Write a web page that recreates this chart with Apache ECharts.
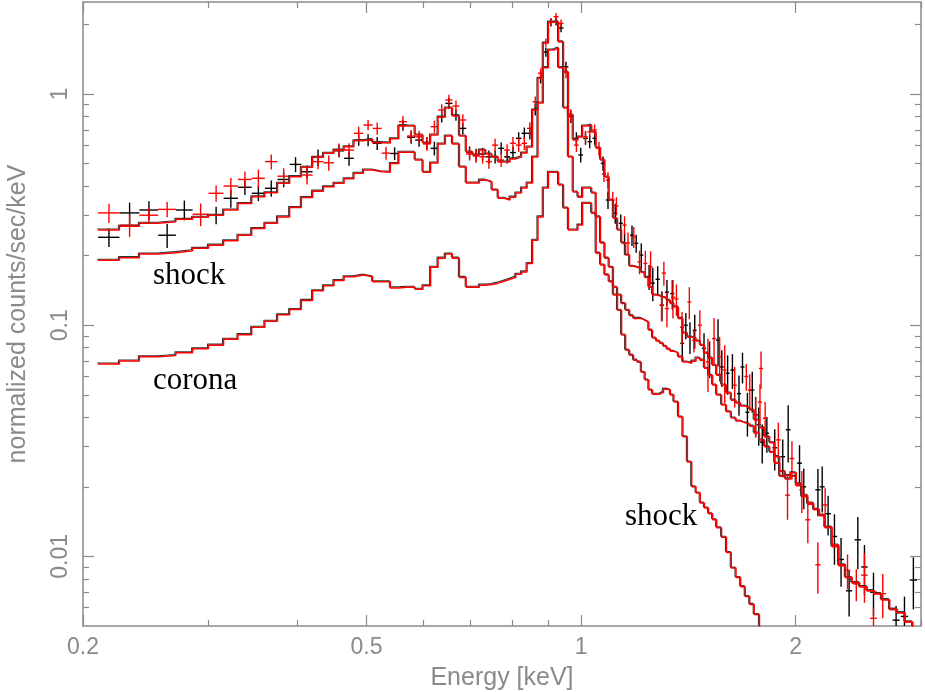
<!DOCTYPE html>
<html>
<head>
<meta charset="utf-8">
<title>spectrum</title>
<script src="https://cdn.jsdelivr.net/npm/echarts@6/dist/echarts.min.js"></script>
<style>
html, body { margin: 0; padding: 0; background: #fff; }
#main { width: 925px; height: 692px; }
</style>
</head>
<body>
<div id="main"></div>
<script>
// lower bin edges of the model steps (keV), last entry closes the last bin
const binEdges = [
    0.210, 0.225, 0.240, 0.255, 0.270, 0.285, 0.300, 0.315, 0.330, 0.345,
    0.360, 0.375, 0.390, 0.405, 0.420, 0.435, 0.450, 0.465, 0.480, 0.495,
    0.510, 0.525, 0.540, 0.555, 0.570, 0.585, 0.600, 0.615, 0.630, 0.645,
    0.660, 0.675, 0.690, 0.705, 0.720, 0.735, 0.750, 0.765, 0.780, 0.795,
    0.810, 0.825, 0.840, 0.855, 0.870, 0.885, 0.900, 0.915, 0.930, 0.945,
    0.960, 0.975, 0.990, 1.005, 1.020, 1.035, 1.050, 1.065, 1.080, 1.095,
    1.110, 1.125, 1.140, 1.155, 1.170,
    1.185, 1.200, 1.215, 1.230, 1.245, 1.260, 1.275, 1.290, 1.305, 1.320, 1.335, 1.350,
    1.370, 1.390, 1.410, 1.430, 1.450, 1.470, 1.490, 1.510, 1.530, 1.550,
    1.575, 1.600, 1.625, 1.650, 1.675, 1.700, 1.725, 1.750,
    1.780, 1.810, 1.840, 1.870, 1.900,
    1.935, 1.970, 2.005, 2.040,
    2.080, 2.120, 2.160, 2.200,
    2.250, 2.300, 2.350, 2.400,
    2.460, 2.520, 2.580, 2.640,
    2.710, 2.780, 2.850, 2.920, 3.000
];

// total model, counts/sec/keV per bin
const totalModel = [
    0.258, 0.268, 0.276, 0.280, 0.287, 0.293, 0.299, 0.315, 0.336, 0.359,
    0.374, 0.411, 0.439, 0.482, 0.532, 0.554, 0.572, 0.591, 0.628, 0.637, 0.616,
    0.614, 0.640, 0.727, 0.727, 0.665, 0.614, 0.665, 0.795, 0.870, 0.803,
    0.658, 0.561, 0.545, 0.572, 0.550, 0.534, 0.508, 0.508, 0.524, 0.534,
    0.555, 0.590, 0.853, 1.17, 1.66, 2.05, 2.05, 1.68, 1.245, 0.811,
    0.632, 0.651, 0.727, 0.734, 0.685, 0.584, 0.518, 0.437, 0.348, 0.290,
    0.258, 0.227, 0.201,
    0.180, 0.178, 0.176, 0.169, 0.161, 0.146, 0.135, 0.134, 0.132, 0.131,
    0.128, 0.124, 0.120, 0.107, 0.0925, 0.0889, 0.0880, 0.0854, 0.0819, 0.0757,
    0.0721, 0.0671, 0.0607, 0.0551, 0.0509, 0.0474, 0.0461, 0.0447, 0.0439, 0.0430,
    0.0389, 0.0360, 0.0329, 0.0310, 0.0270, 0.0233, 0.0224, 0.0230, 0.0206, 0.0184,
    0.0170, 0.0160, 0.0151, 0.0134, 0.0112, 0.0092, 0.0081, 0.0077, 0.0074, 0.0071,
    0.0069, 0.0065, 0.0059, 0.0057, 0.0052, 0.0048
];

// shock component (falls off the bottom near 1.8 keV)
const shockModel = [
    0.191, 0.196, 0.203, 0.206, 0.210, 0.215, 0.222, 0.232, 0.245, 0.262,
    0.276, 0.294, 0.323, 0.357, 0.380, 0.397, 0.411, 0.430, 0.454, 0.469, 0.461,
    0.459, 0.500, 0.560, 0.560, 0.518, 0.459, 0.503, 0.608, 0.658, 0.608,
    0.483, 0.412, 0.412, 0.424, 0.416, 0.384, 0.354, 0.348, 0.358, 0.373,
    0.392, 0.412, 0.534, 0.914, 1.30, 1.55, 1.58, 1.30, 0.870, 0.534,
    0.377, 0.358, 0.392, 0.392, 0.373, 0.294, 0.227, 0.195, 0.178, 0.135,
    0.116, 0.0907, 0.0780,
    0.0742, 0.0706, 0.0692, 0.0626, 0.0579, 0.0524, 0.0503, 0.0503, 0.0513, 0.0529,
    0.0524, 0.0499, 0.0465, 0.0401, 0.0329, 0.0256, 0.0200, 0.0188, 0.0170, 0.0162,
    0.0153, 0.0144, 0.0133, 0.0121, 0.0104, 0.0089, 0.0081, 0.0074, 0.0067, 0.0062,
    0.0056, 0.0049
];

// corona component
const coronaModel = [
    0.068, 0.070, 0.073, 0.074, 0.076, 0.079, 0.082, 0.087, 0.091, 0.098,
    0.104, 0.111, 0.117, 0.128, 0.141, 0.148, 0.156, 0.162, 0.165, 0.162, 0.154,
    0.154, 0.145, 0.146, 0.146, 0.143, 0.148, 0.178, 0.195, 0.203, 0.195,
    0.161, 0.146, 0.146, 0.149, 0.150, 0.152, 0.155, 0.158, 0.161, 0.166,
    0.170, 0.185, 0.233, 0.294, 0.392, 0.459, 0.459, 0.404, 0.321, 0.258,
    0.258, 0.271, 0.337, 0.337, 0.305, 0.205, 0.182, 0.165, 0.154, 0.146,
    0.135, 0.124, 0.116,
    0.110, 0.107, 0.107, 0.105, 0.103, 0.0952, 0.0880, 0.0854, 0.0836, 0.0811,
    0.0788, 0.0772, 0.0757, 0.0728, 0.0693, 0.0685, 0.0699, 0.0721, 0.0706, 0.0651,
    0.0607, 0.0551, 0.0499, 0.0452, 0.0422, 0.0397, 0.0385, 0.0378, 0.0374, 0.0366,
    0.0342, 0.0319, 0.0298, 0.0282, 0.0253, 0.0222, 0.0216, 0.0222, 0.0202, 0.0181,
    0.0168, 0.0159, 0.0150, 0.0133, 0.0110, 0.0091, 0.0081, 0.0077, 0.0074, 0.0071,
    0.0069, 0.0065, 0.0059, 0.0057, 0.0052, 0.0048
];

// data points: [energy, half bin width, value, 1-sigma error]
const blackData = [
    [0.2175, 0.0075, 0.240, 0.022], [0.2325, 0.0075, 0.306, 0.033], [0.2475, 0.0075, 0.315, 0.029],
    [0.2625, 0.0075, 0.245, 0.029], [0.2775, 0.0075, 0.315, 0.031], [0.3075, 0.0075, 0.299, 0.026],
    [0.3225, 0.0075, 0.354, 0.032], [0.3375, 0.0075, 0.395, 0.029], [0.3525, 0.0075, 0.372, 0.028],
    [0.3675, 0.0075, 0.391, 0.032], [0.3825, 0.0075, 0.427, 0.032], [0.3975, 0.0075, 0.496, 0.037],
    [0.4125, 0.0075, 0.461, 0.030], [0.4275, 0.0075, 0.532, 0.044], [0.4575, 0.0075, 0.568, 0.035],
    [0.4725, 0.0075, 0.527, 0.037], [0.4875, 0.0075, 0.632, 0.035], [0.5025, 0.0075, 0.632, 0.037],
    [0.5175, 0.0075, 0.612, 0.040], [0.5475, 0.0075, 0.553, 0.035], [0.5625, 0.0075, 0.734, 0.040],
    [0.5775, 0.0075, 0.650, 0.040], [0.5925, 0.0075, 0.632, 0.040], [0.6075, 0.0075, 0.612, 0.040],
    [0.6225, 0.0075, 0.582, 0.040], [0.6375, 0.0075, 0.797, 0.045], [0.6525, 0.0075, 0.911, 0.050],
    [0.6675, 0.0075, 0.811, 0.045], [0.6825, 0.0075, 0.710, 0.040], [0.6975, 0.0075, 0.558, 0.035],
    [0.7125, 0.0075, 0.545, 0.035], [0.7275, 0.0075, 0.550, 0.035], [0.7425, 0.0075, 0.535, 0.035],
    [0.7575, 0.0075, 0.535, 0.035], [0.7725, 0.0075, 0.582, 0.035], [0.7875, 0.0075, 0.535, 0.035],
    [0.8025, 0.0075, 0.558, 0.035], [0.8175, 0.0075, 0.643, 0.040], [0.8325, 0.0075, 0.676, 0.040],
    [0.8475, 0.0075, 0.676, 0.040], [0.8625, 0.0075, 0.858, 0.050], [0.8775, 0.0075, 1.17, 0.06],
    [0.8925, 0.0075, 1.52, 0.07], [0.9075, 0.0075, 2.04, 0.08], [0.9225, 0.0075, 2.06, 0.08],
    [0.9375, 0.0075, 1.93, 0.08], [0.9525, 0.0075, 1.31, 0.07], [0.9675, 0.0075, 0.80, 0.05],
    [0.985, 0.0075, 0.643, 0.040], [0.999, 0.0075, 0.545, 0.040], [1.0145, 0.0075, 0.643, 0.040],
    [1.0286, 0.0075, 0.622, 0.040], [1.045, 0.0075, 0.643, 0.040], [1.0734, 0.0075, 0.501, 0.035],
    [1.091, 0.0075, 0.348, 0.030], [1.117, 0.0075, 0.305, 0.030], [1.137, 0.0075, 0.276, 0.025],
    [1.151, 0.0075, 0.226, 0.025], [1.179, 0.0075, 0.245, 0.025], [1.195, 0.008, 0.226, 0.020],
    [1.215, 0.008, 0.201, 0.025], [1.246, 0.008, 0.162, 0.020], [1.261, 0.008, 0.152, 0.025],
    [1.281, 0.009, 0.158, 0.022], [1.299, 0.009, 0.122, 0.018], [1.320, 0.009, 0.139, 0.018],
    [1.343, 0.009, 0.137, 0.020], [1.387, 0.009, 0.0835, 0.014], [1.403, 0.009, 0.100, 0.013],
    [1.422, 0.009, 0.089, 0.014], [1.444, 0.009, 0.095, 0.016], [1.488, 0.010, 0.0794, 0.013],
    [1.515, 0.010, 0.072, 0.013], [1.557, 0.010, 0.0862, 0.020], [1.576, 0.010, 0.066, 0.012],
    [1.606, 0.010, 0.062, 0.012], [1.631, 0.011, 0.064, 0.011], [1.666, 0.011, 0.0506, 0.010],
    [1.685, 0.011, 0.066, 0.010], [1.712, 0.011, 0.042, 0.009],
    [1.739, 0.012, 0.0524, 0.0105], [1.758, 0.012, 0.041, 0.008], [1.776, 0.012, 0.0371, 0.007],
    [1.796, 0.013, 0.0312, 0.006], [1.823, 0.013, 0.0341, 0.006], [1.870, 0.014, 0.0295, 0.006],
    [1.919, 0.015, 0.027, 0.005], [1.953, 0.015, 0.0353, 0.0098], [2.026, 0.016, 0.0253, 0.005],
    [2.054, 0.016, 0.020, 0.004], [2.150, 0.018, 0.0194, 0.0045], [2.180, 0.018, 0.020, 0.0045],
    [2.222, 0.020, 0.0153, 0.003], [2.268, 0.020, 0.0122, 0.003], [2.317, 0.022, 0.0097, 0.0023],
    [2.378, 0.024, 0.0071, 0.0016], [2.446, 0.025, 0.0118, 0.003], [2.499, 0.026, 0.0090, 0.0022],
    [2.573, 0.028, 0.0070, 0.0015], [2.768, 0.032, 0.0053, 0.0008], [2.844, 0.034, 0.0055, 0.0012],
    [2.927, 0.034, 0.0079, 0.002]
];

const redData = [
    [0.2175, 0.0075, 0.306, 0.029], [0.2325, 0.0075, 0.271, 0.030], [0.2475, 0.0075, 0.299, 0.025],
    [0.2625, 0.0075, 0.317, 0.024], [0.2925, 0.0075, 0.302, 0.034], [0.3075, 0.0075, 0.372, 0.030],
    [0.3225, 0.0075, 0.400, 0.033], [0.3375, 0.0075, 0.427, 0.035], [0.3525, 0.0075, 0.432, 0.039],
    [0.3675, 0.0075, 0.510, 0.038], [0.3825, 0.0075, 0.441, 0.037], [0.4125, 0.0075, 0.446, 0.040],
    [0.4275, 0.0075, 0.510, 0.037], [0.4425, 0.0075, 0.504, 0.038], [0.4575, 0.0075, 0.572, 0.039],
    [0.4725, 0.0075, 0.572, 0.040], [0.4875, 0.0075, 0.676, 0.045], [0.5025, 0.0075, 0.734, 0.037],
    [0.5175, 0.0075, 0.710, 0.043], [0.5325, 0.0075, 0.555, 0.035], [0.5625, 0.0075, 0.759, 0.045],
    [0.5775, 0.0075, 0.658, 0.040], [0.5925, 0.0075, 0.653, 0.040], [0.6075, 0.0075, 0.608, 0.040],
    [0.6225, 0.0075, 0.722, 0.045], [0.6375, 0.0075, 0.853, 0.050], [0.6525, 0.0075, 0.942, 0.050],
    [0.6675, 0.0075, 0.887, 0.050], [0.6825, 0.0075, 0.772, 0.045], [0.6975, 0.0075, 0.550, 0.035],
    [0.7125, 0.0075, 0.539, 0.035], [0.7275, 0.0075, 0.535, 0.035], [0.7425, 0.0075, 0.510, 0.035],
    [0.7575, 0.0075, 0.601, 0.040], [0.7725, 0.0075, 0.518, 0.035], [0.7875, 0.0075, 0.572, 0.035],
    [0.8025, 0.0075, 0.612, 0.040], [0.8175, 0.0075, 0.601, 0.040], [0.8325, 0.0075, 0.612, 0.040],
    [0.8475, 0.0075, 0.710, 0.045], [0.8625, 0.0075, 0.926, 0.050], [0.8775, 0.0075, 1.23, 0.06],
    [0.8925, 0.0075, 1.67, 0.07], [0.9075, 0.0075, 2.05, 0.08], [0.9225, 0.0075, 2.16, 0.08],
    [0.9375, 0.0075, 2.02, 0.08], [0.9525, 0.0075, 1.24, 0.07], [0.9675, 0.0075, 0.81, 0.05],
    [0.985, 0.0075, 0.601, 0.040], [1.0145, 0.0075, 0.653, 0.040], [1.0286, 0.0075, 0.687, 0.040],
    [1.045, 0.0075, 0.699, 0.040], [1.0596, 0.0075, 0.582, 0.040], [1.077, 0.0075, 0.451, 0.035],
    [1.091, 0.0075, 0.424, 0.035], [1.108, 0.0075, 0.348, 0.030], [1.121, 0.0075, 0.328, 0.030],
    [1.151, 0.0075, 0.271, 0.025], [1.164, 0.0075, 0.227, 0.025], [1.186, 0.0075, 0.241, 0.025],
    [1.208, 0.008, 0.188, 0.022], [1.231, 0.008, 0.185, 0.025], [1.252, 0.008, 0.179, 0.030],
    [1.297, 0.009, 0.122, 0.018], [1.307, 0.009, 0.168, 0.020], [1.320, 0.009, 0.118, 0.020],
    [1.346, 0.009, 0.132, 0.025], [1.361, 0.009, 0.130, 0.020], [1.386, 0.009, 0.098, 0.016],
    [1.419, 0.009, 0.126, 0.020], [1.440, 0.009, 0.0862, 0.010], [1.468, 0.010, 0.100, 0.016],
    [1.507, 0.010, 0.0694, 0.018], [1.537, 0.010, 0.0875, 0.020], [1.565, 0.010, 0.073, 0.016],
    [1.591, 0.010, 0.064, 0.018], [1.643, 0.011, 0.055, 0.011], [1.706, 0.011, 0.060, 0.008],
    [1.725, 0.011, 0.0524, 0.009], [1.758, 0.012, 0.0406, 0.008],
    [1.783, 0.012, 0.0465, 0.009], [1.789, 0.012, 0.065, 0.012], [1.813, 0.013, 0.0396, 0.007],
    [1.892, 0.014, 0.0319, 0.006], [1.949, 0.015, 0.0184, 0.004], [1.977, 0.015, 0.0265, 0.005],
    [2.041, 0.016, 0.0194, 0.004], [2.081, 0.017, 0.0144, 0.003], [2.150, 0.018, 0.0092, 0.0023],
    [2.201, 0.019, 0.0167, 0.003], [2.366, 0.022, 0.0087, 0.0015], [2.434, 0.024, 0.0076, 0.0012],
    [2.499, 0.026, 0.0083, 0.002], [2.573, 0.028, 0.0054, 0.0006], [2.651, 0.030, 0.0069, 0.0015]
];

const xMajorTicks = [0.2, 0.5, 1, 2];
const xMinorTicks = [0.3, 0.4, 0.6, 0.7, 0.8, 0.9, 3];
const yMajorTicks = [0.01, 0.1, 1];
const yMinorTicks = [0.006, 0.007, 0.008, 0.009, 0.02, 0.03, 0.04, 0.05, 0.06, 0.07, 0.08, 0.09,
    0.2, 0.3, 0.4, 0.5, 0.6, 0.7, 0.8, 0.9, 2];

const X_MIN = 0.2, X_MAX = 3, Y_MIN = 0.005, Y_MAX = 2.5;
const GREY = '#8a8a8a';
const LABEL_FONT = '"Liberation Sans", Arial, sans-serif';
const NOTE_FONT = '31px "Liberation Serif", "Times New Roman", serif';

// turn per-bin values into points for a step line
function steps(vals) {
    const pts = vals.map((v, i) => [binEdges[i], v]);
    pts.push([binEdges[vals.length], vals[vals.length - 1]]);
    return pts;
}

function xAxisDef(pos, ticks, len, withLine, labels) {
    return {
        type: 'log', logBase: 10, min: X_MIN, max: X_MAX, gridIndex: 0, position: pos,
        axisLine: {show: withLine, lineStyle: {color: GREY, width: 1.5}},
        axisTick: {show: true, inside: true, length: len, customValues: ticks,
            lineStyle: {color: GREY, width: 1.2}},
        axisLabel: labels ? {
            show: true, customValues: ticks, margin: 10, color: GREY,
            fontFamily: LABEL_FONT, fontSize: 23,
            formatter: v => String(+(+v).toPrecision(3))
        } : {show: false},
        splitLine: {show: false}, minorTick: {show: false}
    };
}

function yAxisDef(pos, ticks, len, withLine, labels) {
    return {
        type: 'log', logBase: 10, min: Y_MIN, max: Y_MAX, gridIndex: 0, position: pos,
        axisLine: {show: withLine, lineStyle: {color: GREY, width: 1.5}},
        axisTick: {show: true, inside: true, length: len, customValues: ticks,
            lineStyle: {color: GREY, width: 1.2}},
        axisLabel: labels ? {
            show: true, customValues: ticks, margin: 11, rotate: 90, color: GREY,
            fontFamily: LABEL_FONT, fontSize: 23,
            formatter: v => String(+(+v).toPrecision(3))
        } : {show: false},
        splitLine: {show: false}, minorTick: {show: false}
    };
}

function crossRenderer(color) {
    return function (params, api) {
        const e = api.value(0), de = api.value(1), v = api.value(2), dv = api.value(3);
        const a = api.coord([e - de, v]);
        const b = api.coord([e + de, v]);
        const lo = api.coord([e, Math.max(v - dv, 1e-4)]);
        const hi = api.coord([e, v + dv]);
        const style = {stroke: color, lineWidth: 1.4};
        return {
            type: 'group',
            children: [
                {type: 'line', shape: {x1: a[0], y1: a[1], x2: b[0], y2: b[1]}, style: style},
                {type: 'line', shape: {x1: lo[0], y1: lo[1], x2: hi[0], y2: hi[1]}, style: style}
            ]
        };
    };
}

function modelLine(name, vals, color, grid, width) {
    return {
        name: name, type: 'line', step: 'end', data: steps(vals),
        xAxisIndex: grid === 0 ? 0 : 4, yAxisIndex: grid === 0 ? 0 : 4,
        showSymbol: false, symbol: 'none', clip: true, silent: true,
        lineStyle: {color: color, width: width}
    };
}

const xMain = xAxisDef('bottom', xMajorTicks, 11, true, true);
xMain.name = 'Energy [keV]';
xMain.nameLocation = 'middle';
xMain.nameGap = 40;
xMain.nameTextStyle = {color: GREY, fontFamily: LABEL_FONT, fontSize: 25};

const yMain = yAxisDef('left', yMajorTicks, 11, true, true);
yMain.name = 'normalized counts/sec/keV';
yMain.nameLocation = 'middle';
yMain.nameGap = 52;
yMain.nameTextStyle = {color: GREY, fontFamily: LABEL_FONT, fontSize: 25};

const chart = echarts.init(document.getElementById('main'), null, {renderer: 'canvas'});
chart.setOption({
    animation: false,
    backgroundColor: '#fff',
    grid: [
        {left: 83, top: 2, width: 838, height: 624, outerBoundsMode: 'none', containLabel: false},
        // the black models sit a pixel up-left of the red ones
        {left: 82, top: 1, width: 838, height: 624, outerBoundsMode: 'none', containLabel: false}
    ],
    xAxis: [
        xMain,
        xAxisDef('bottom', xMinorTicks, 6, false, false),
        xAxisDef('top', xMajorTicks, 11, true, false),
        xAxisDef('top', xMinorTicks, 6, false, false),
        {type: 'log', min: X_MIN, max: X_MAX, gridIndex: 1, show: false}
    ],
    yAxis: [
        yMain,
        yAxisDef('left', yMinorTicks, 6, false, false),
        yAxisDef('right', yMajorTicks, 11, true, false),
        yAxisDef('right', yMinorTicks, 6, false, false),
        {type: 'log', min: Y_MIN, max: Y_MAX, gridIndex: 1, show: false}
    ],
    series: [
        modelLine('total (black)', totalModel, '#333333', 1, 1.1),
        modelLine('shock (black)', shockModel, '#333333', 1, 1.1),
        modelLine('corona (black)', coronaModel, '#333333', 1, 1.1),
        modelLine('total', totalModel, '#ff0000', 0, 1.5),
        modelLine('shock', shockModel, '#ff0000', 0, 1.5),
        modelLine('corona', coronaModel, '#ff0000', 0, 1.5),
        {
            name: 'data 1', type: 'custom', renderItem: crossRenderer('#000000'),
            data: blackData, encode: {x: 0, y: 2}, clip: true, silent: true,
            xAxisIndex: 0, yAxisIndex: 0
        },
        {
            name: 'data 2', type: 'custom', renderItem: crossRenderer('#ff0000'),
            data: redData, encode: {x: 0, y: 2}, clip: true, silent: true,
            xAxisIndex: 0, yAxisIndex: 0
        }
    ],
    graphic: [
        {type: 'text', x: 153, y: 276, style: {text: 'shock', fill: '#000', font: NOTE_FONT, verticalAlign: 'middle'}},
        {type: 'text', x: 153, y: 381, style: {text: 'corona', fill: '#000', font: NOTE_FONT, verticalAlign: 'middle'}},
        {type: 'text', x: 625, y: 517, style: {text: 'shock', fill: '#000', font: NOTE_FONT, verticalAlign: 'middle'}}
    ]
});
</script>
</body>
</html>
